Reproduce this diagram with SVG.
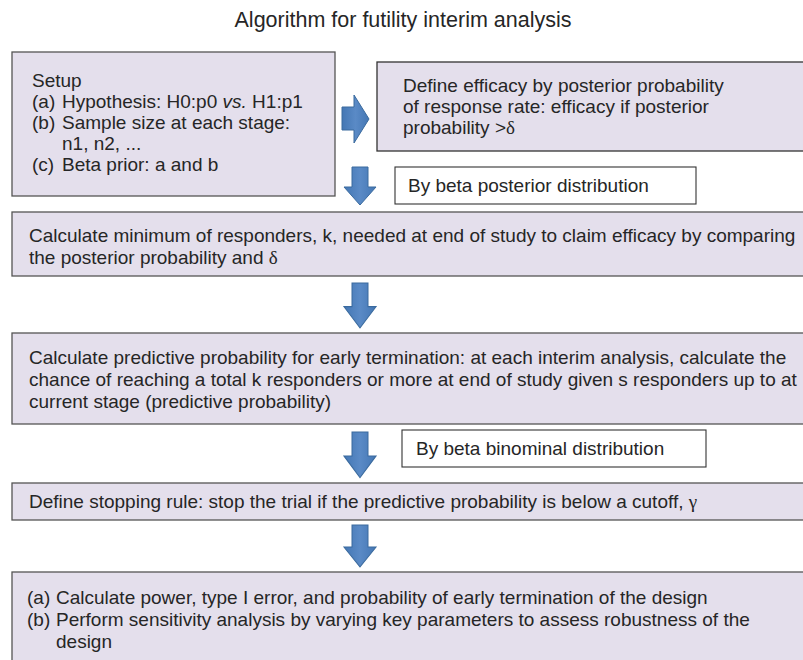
<svg xmlns="http://www.w3.org/2000/svg" xmlns:xlink="http://www.w3.org/1999/xlink" width="803" height="660" viewBox="0 0 803 660">
<style>
  .box { fill: #e4dfec; stroke: #555; stroke-width: 1.3; }
  .wbox { fill: #ffffff; stroke: #333; stroke-width: 1.1; }
  text { font-family: "Liberation Sans", Arial, sans-serif; font-size: 19px; fill: #262626; }
  .title { font-size: 21.5px; text-anchor: middle; }
  .sym { font-family: "Liberation Serif", serif; }
  .arrow { fill: url(#blue); stroke: #3a6a9e; stroke-width: 1; }
</style>
<defs>
  <linearGradient id="blue" x1="0" y1="0" x2="1" y2="0">
    <stop offset="0" stop-color="#4477b4"/>
    <stop offset="0.5" stop-color="#5a8ac6"/>
    <stop offset="1" stop-color="#4477b4"/>
  </linearGradient>
  <path id="down" d="M-8,0 H8 V20 H16 L0,38 L-16,20 H-8 Z"/>
</defs>
<rect width="803" height="660" fill="#fff"/>
<text class="title" x="403" y="27">Algorithm for futility interim analysis</text>

<g id="setup">
  <rect class="box" x="12" y="52" width="323" height="144"/>
  <text x="32" y="87">Setup</text>
  <text x="32" y="108">(a)</text><text x="62" y="108">Hypothesis: H0:p0 <tspan font-style="italic">vs.</tspan> H1:p1</text>
  <text x="32" y="129">(b)</text><text x="62" y="129">Sample size at each stage:</text>
  <text x="62" y="150">n1, n2, ...</text>
  <text x="32" y="171">(c)</text><text x="62" y="171">Beta prior: a and b</text>
</g>

<g id="efficacy">
  <rect class="box" x="377" y="62" width="440" height="89" style="stroke:#333"/>
  <text x="403" y="92">Define efficacy by posterior probability</text>
  <text x="403" y="113">of response rate: efficacy if posterior</text>
  <text x="403" y="134">probability &gt;<tspan class="sym">δ</tspan></text>
</g>

<g id="label-posterior">
  <rect class="wbox" x="395" y="167" width="301" height="37"/>
  <text x="408" y="192">By beta posterior distribution</text>
</g>

<g id="min-responders">
  <rect class="box" x="12" y="212" width="805" height="64"/>
  <text x="29" y="242">Calculate minimum of responders, k, needed at end of study to claim efficacy by comparing</text>
  <text x="29" y="264">the posterior probability and <tspan class="sym">δ</tspan></text>
</g>

<g id="predictive">
  <rect class="box" x="12" y="333" width="805" height="91"/>
  <text x="29" y="364">Calculate predictive probability for early termination: at each interim analysis, calculate the</text>
  <text x="29" y="386">chance of reaching a total k responders or more at end of study given s responders up to at</text>
  <text x="29" y="408">current stage (predictive probability)</text>
</g>

<g id="label-binominal">
  <rect class="wbox" x="402" y="430" width="304" height="37"/>
  <text x="416" y="455">By beta binominal distribution</text>
</g>

<g id="stopping">
  <rect class="box" x="12" y="483" width="805" height="37"/>
  <text x="29" y="508">Define stopping rule: stop the trial if the predictive probability is below a cutoff, <tspan class="sym">γ</tspan></text>
</g>

<g id="evaluate">
  <rect class="box" x="12" y="572" width="805" height="100"/>
  <text x="27" y="604">(a)</text><text x="56" y="604">Calculate power, type I error, and probability of early termination of the design</text>
  <text x="27" y="626">(b)</text><text x="56" y="626">Perform sensitivity analysis by varying key parameters to assess robustness of the</text>
  <text x="56" y="648">design</text>
</g>

<g id="connectors">
  <path class="arrow" d="M342,107 H354 V95 L369,119 L354,143 V130 H342 Z"/>
  <use href="#down" xlink:href="#down" class="arrow" transform="translate(360,167)"/>
  <use href="#down" xlink:href="#down" class="arrow" transform="translate(360,283) scale(1,1.18)"/>
  <use href="#down" xlink:href="#down" class="arrow" transform="translate(360,432) scale(1,1.2)"/>
  <use href="#down" xlink:href="#down" class="arrow" transform="translate(360,525) scale(1,1.1)"/>
</g>
</svg>
